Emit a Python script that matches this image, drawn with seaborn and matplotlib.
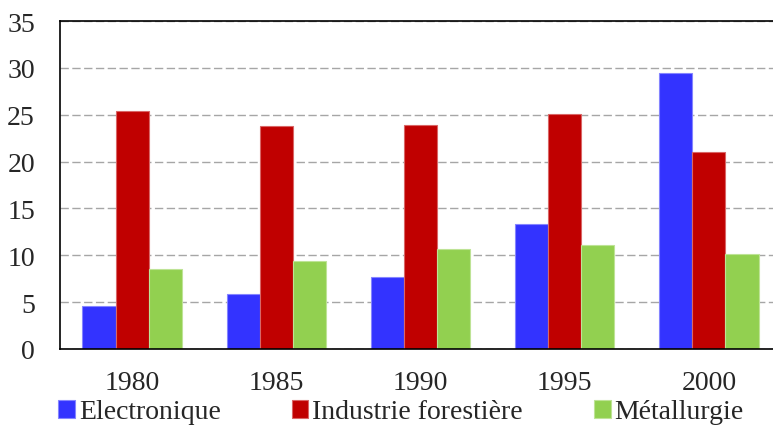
import matplotlib
matplotlib.use("Agg")
import matplotlib.pyplot as plt
import numpy as np
import pandas as pd
import seaborn as sns
from matplotlib.colors import to_rgb

years = ["1980", "1985", "1990", "1995", "2000"]
series = ["Electronique", "Industrie forestière", "Métallurgie"]
electronique = [4.6, 5.9, 7.7, 13.3, 29.5]
forestiere = [25.4, 23.8, 23.9, 25.1, 21.0]
metallurgie = [8.5, 9.4, 10.7, 11.1, 10.1]
colors = ["#3333FF", "#C00000", "#92D050"]

df = pd.DataFrame({
    "Année": years * 3,
    "Secteur": [s for s in series for _ in years],
    "Valeur": electronique + forestiere + metallurgie,
})

FS = 20

sns.set_style("white")
plt.rcParams["font.family"] = "serif"
plt.rcParams["font.serif"] = ["Liberation Serif", "DejaVu Serif"]
plt.rcParams["font.size"] = FS

fig = plt.figure(figsize=(7.73, 4.27), dpi=100)
ax = fig.add_axes([60 / 773, 77 / 427, 721 / 773, 328 / 427])

sns.barplot(data=df, x="Année", y="Valeur", hue="Secteur", palette=colors,
            width=0.69, saturation=1, ax=ax, legend=True)

# light outline around each bar
for p in ax.patches:
    r, g, b = to_rgb(p.get_facecolor())
    p.set_edgecolor((r + (1 - r) * 0.4, g + (1 - g) * 0.4, b + (1 - b) * 0.4))
    p.set_linewidth(0.8)

ax.set_ylim(0, 35)
ax.set_xlim(-0.5, len(years) - 0.5)
ax.set_yticks(np.arange(0, 36, 5))
ax.set_xlabel("")
ax.set_ylabel("")
ax.yaxis.grid(True, linestyle=(0, (6, 2.5)), color="#A6A6A6", linewidth=1)
ax.set_axisbelow(True)

ax.tick_params(axis="y", length=0, pad=18, labelsize=FS)
ax.tick_params(axis="x", which="major", length=0, pad=15, labelsize=FS)
ax.set_xticks(np.arange(0.5, len(years) - 1, 1), minor=True)
ax.tick_params(axis="x", which="minor", direction="in", length=6, width=1,
               color="black")

for side in ["left", "bottom", "top", "right"]:
    ax.spines[side].set_visible(True)
    ax.spines[side].set_color("black")
    ax.spines[side].set_linewidth(1.2)

handles, labels = ax.get_legend_handles_labels()
ax.get_legend().remove()
fig.legend(handles, labels, loc="center left", bbox_to_anchor=(58 / 773, 14 / 427),
           ncol=3, frameon=False, borderpad=0, borderaxespad=0,
           handlelength=0.6, handleheight=0.6, handletextpad=0.15,
           columnspacing=2.55, prop={"family": "serif", "size": FS})

fig.savefig("out.png", dpi=100)
